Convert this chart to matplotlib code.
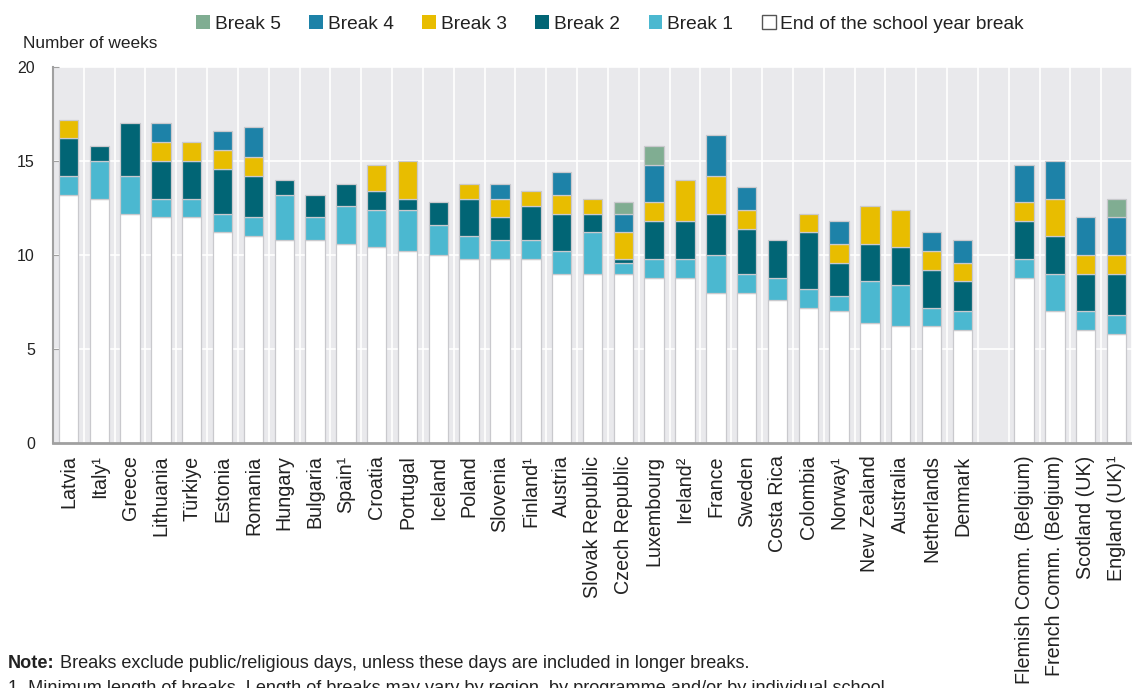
import numpy as np
import matplotlib.pyplot as plt
from matplotlib import font_manager
from matplotlib.font_manager import FontProperties
from matplotlib.patches import Patch

# values (weeks)
countries = ["Latvia", "Italy¹", "Greece", "Lithuania", "Türkiye", "Estonia",
             "Romania", "Hungary", "Bulgaria", "Spain¹", "Croatia", "Portugal",
             "Iceland", "Poland", "Slovenia", "Finland¹", "Austria",
             "Slovak Republic", "Czech Republic", "Luxembourg", "Ireland²",
             "France", "Sweden", "Costa Rica", "Colombia", "Norway¹",
             "New Zealand", "Australia", "Netherlands", "Denmark", "",
             "Flemish Comm. (Belgium)", "French Comm. (Belgium)",
             "Scotland (UK)", "England (UK)¹"]
end_break = [13.2, 13, 12.2, 12, 12, 11.2, 11, 10.8, 10.8, 10.6, 10.4, 10.2,
             10, 9.8, 9.8, 9.8, 9, 9, 9, 8.8, 8.8, 8, 8, 7.6, 7.2, 7, 6.4, 6.2,
             6.2, 6, 0, 8.8, 7, 6, 5.8]
break1 = [1, 2, 2, 1, 1, 1, 1, 2.4, 1.2, 2, 2, 2.2, 1.6, 1.2, 1, 1, 1.2, 2.2,
          0.6, 1, 1, 2, 1, 1.2, 1, 0.8, 2.2, 2.2, 1, 1, 0, 1, 2, 1, 1]
break2 = [2, 0.8, 2.8, 2, 2, 2.4, 2.2, 0.8, 1.2, 1.2, 1, 0.6, 1.2, 2, 1.2, 1.8,
          2, 1, 0.2, 2, 2, 2.2, 2.4, 2, 3, 1.8, 2, 2, 2, 1.6, 0, 2, 2, 2, 2.2]
break3 = [1, 0, 0, 1, 1, 1, 1, 0, 0, 0, 1.4, 2, 0, 0.8, 1, 0.8, 1, 0.8, 1.4, 1,
          2.2, 2, 1, 0, 1, 1, 2, 2, 1, 1, 0, 1, 2, 1, 1]
break4 = [0, 0, 0, 1, 0, 1, 1.6, 0, 0, 0, 0, 0, 0, 0, 0.8, 0, 1.2, 0, 1, 2, 0,
          2.2, 1.2, 0, 0, 1.2, 0, 0, 1, 1.2, 0, 2, 2, 2, 2]
break5 = [0, 0, 0, 0, 0, 0, 0, 0, 0, 0, 0, 0, 0, 0, 0, 0, 0, 0, 0.6, 1, 0, 0,
          0, 0, 0, 0, 0, 0, 0, 0, 0, 0, 0, 0, 1]

series = [
    ("End of the school year break", end_break, "white"),
    ("Break 1", break1, "#4bb8d0"),
    ("Break 2", break2, "#016575"),
    ("Break 3", break3, "#e8bd00"),
    ("Break 4", break4, "#1d82a8"),
    ("Break 5", break5, "#80ad92"),
]

# narrow font if there is one
try:
    font_manager.findfont(FontProperties(family="Liberation Sans Narrow"),
                          fallback_to_default=False)
    narrow = "Liberation Sans Narrow"
    k = 1.0
except ValueError:
    narrow = "Liberation Sans"
    k = 0.86

plt.rcParams["font.family"] = ["Liberation Sans", "DejaVu Sans"]
txt = "#222222"
fam = [narrow, "DejaVu Sans"]

fig = plt.figure(figsize=(11.32, 6.88), dpi=100)
ax = fig.add_axes([53 / 1132, 1 - 443 / 688, 1 - 53 / 1132, (443 - 67) / 688])
ax.set_facecolor("#e9e9ec")

x = np.arange(len(countries))
bottom = np.zeros(len(countries))
for name, vals, col in series:
    vals = np.array(vals, dtype=float)
    lw = [0.9 if v > 0 else 0 for v in vals]
    ax.bar(x, vals, 0.63, bottom=bottom, color=col, edgecolor="#c9c9cd",
           linewidth=lw, zorder=3)
    bottom += vals

ax.set_xlim(-0.5, len(countries) - 0.5)
ax.set_ylim(0, 20)
ax.set_yticks([0, 5, 10, 15, 20])
ax.set_xticks(x)
ax.set_xticklabels(countries, rotation=90, fontsize=14.2, color=txt)
ax.set_xticks(np.arange(-0.5, len(countries), 1), minor=True)
ax.tick_params(axis="x", which="both", length=0, pad=9)
ax.tick_params(axis="y", direction="in", length=4, color="#a0a0a0",
               labelsize=13.4 * k, labelcolor=txt, pad=13)
for lab in ax.get_yticklabels():
    lab.set_family(fam)
ax.grid(axis="y", color="white", linewidth=1.2, zorder=1)
ax.grid(axis="x", which="minor", color="white", linewidth=1.2, zorder=1)
ax.grid(axis="x", which="major", visible=False)

for s in ["top", "right"]:
    ax.spines[s].set_visible(False)
ax.spines["left"].set_color("#a0a0a0")
ax.spines["left"].set_linewidth(1.5)
ax.spines["bottom"].set_color("#a0a0a0")
ax.spines["bottom"].set_linewidth(2)
ax.spines["bottom"].set_zorder(4)

fig.text(23 / 1132, 1 - 43 / 688, "Number of weeks", fontsize=14.4 * k,
         family=fam, color=txt, va="center")

handles = []
for name, vals, col in reversed(series):
    handles.append(Patch(facecolor=col, edgecolor="#555555" if col == "white" else col,
                         linewidth=1 if col == "white" else 0, label=name))
fig.legend(handles=handles, loc="center", bbox_to_anchor=(610 / 1132, 1 - 24 / 688),
           ncol=6, frameon=False, handlelength=0.72, handleheight=0.72,
           handletextpad=0.25, columnspacing=1.5,
           prop={"family": fam, "size": 16 * k},
           labelcolor=txt)

note = fig.text(8 / 1132, 1 - 664 / 688, "Note:", fontsize=15.2 * k,
                family=fam, weight="bold", color=txt, va="center")
plt.annotate(" Breaks exclude public/religious days, unless these days are "
             "included in longer breaks.", xy=(1, 0.5), xycoords=note,
             va="center", ha="left", fontsize=15.2 * k, family=fam, color=txt)
fig.text(8 / 1132, 1 - 680 / 688, "1. Minimum length of breaks. Length of breaks "
         "may vary by region, by programme and/or by individual school.",
         fontsize=15.2 * k, family=fam, color=txt, va="top")

fig.savefig("out.png", dpi=100)
